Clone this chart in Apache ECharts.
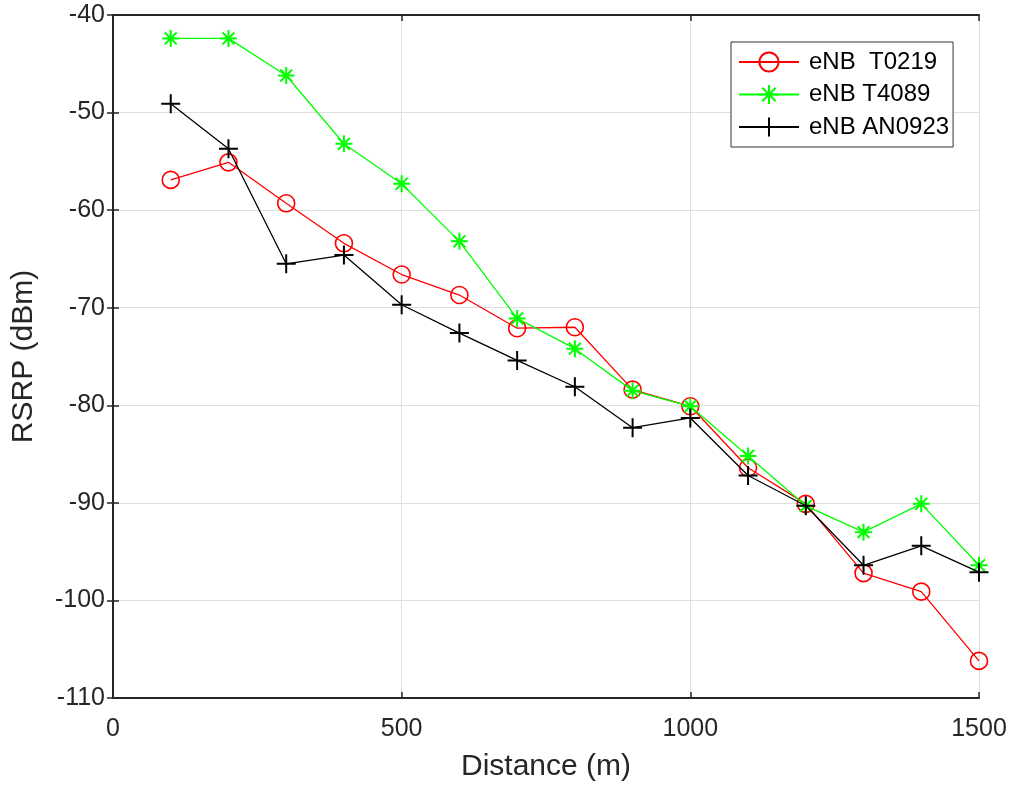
<!DOCTYPE html>
<html>
<head>
<meta charset="utf-8">
<script src="https://cdn.jsdelivr.net/npm/echarts@6/dist/echarts.min.js"></script>
<style>
html,body{margin:0;padding:0;background:#fff;}
#chart{width:1021px;height:790px;}
</style>
</head>
<body>
<div id="chart"></div>
<script>
const distances = [100,200,300,400,500,600,700,800,900,1000,1100,1200,1300,1400,1500];
const seriesNames = ['eNB  T0219','eNB T4089','eNB AN0923'];
const rsrpT0219 = [-56.9,-55.1,-59.3,-63.4,-66.6,-68.7,-72.1,-72.0,-78.4,-80.1,-86.4,-90.1,-97.2,-99.1,-106.2];
const rsrpT4089 = [-42.4,-42.4,-46.2,-53.2,-57.3,-63.2,-71.1,-74.2,-78.5,-80.1,-85.2,-90.3,-93.0,-90.1,-96.4];
const rsrpAN0923 = [-49.1,-53.7,-65.5,-64.6,-69.7,-72.6,-75.4,-78.1,-82.3,-81.3,-87.2,-90.3,-96.4,-94.4,-97.1];
const xTicks = {min:0,max:1500,interval:500};
const yTicks = {min:-110,max:-40,interval:10};
const xTitle = 'Distance (m)';
const yTitle = 'RSRP (dBm)';

const FONT = '"Liberation Sans", Arial, Helvetica, sans-serif';
const AX = '#262626';
const pair = (ys) => distances.map((d,i)=>[d, ys[i]]);

const plusPath = 'path://M0,10L20,10M10,0L10,20';
const starPath = 'path://M10,0L10,20M0,10L20,10M3,3L17,17M17,3L3,17';

const chart = echarts.init(document.getElementById('chart'));
const baseAxisLine = {show:true, lineStyle:{color:AX, width:2}};
const tick = {show:true, inside:true, length:6, lineStyle:{color:AX, width:1.5}};
chart.setOption({
  animation:false,
  backgroundColor:'#fff',
  grid:{left:113, right:42, top:15, bottom:92, containLabel:false},
  legend:{
    left:731, top:42, orient:'vertical',
    padding:[8,4,8,7], itemGap:8.5, itemWidth:60, itemHeight:24,
    backgroundColor:'#fff', borderColor:'#333', borderWidth:1,
    textStyle:{fontFamily:FONT, fontSize:24, color:'#000', lineHeight:24, padding:[0,0,0,5]},
    data:seriesNames
  },
  xAxis:[{
    type:'value', min:xTicks.min, max:xTicks.max, interval:xTicks.interval,
    name:xTitle, nameLocation:'middle', nameGap:54,
    nameTextStyle:{fontFamily:FONT, fontSize:30, color:AX},
    axisLine:baseAxisLine, axisTick:tick,
    axisLabel:{fontFamily:FONT, fontSize:25, color:AX, margin:19, formatter:(v)=>String(v)},
    splitLine:{show:true, lineStyle:{color:'#dfdfdf', width:1}}
  },{
    type:'value', position:'top', min:xTicks.min, max:xTicks.max, interval:xTicks.interval,
    axisLine:baseAxisLine, axisTick:tick, axisLabel:{show:false}, splitLine:{show:false}
  }],
  yAxis:[{
    type:'value', min:yTicks.min, max:yTicks.max, interval:yTicks.interval,
    name:yTitle, nameLocation:'middle', nameGap:74,
    nameTextStyle:{fontFamily:FONT, fontSize:30, color:AX},
    axisLine:baseAxisLine, axisTick:tick,
    axisLabel:{fontFamily:FONT, fontSize:25, color:AX, margin:8, formatter:(v)=>String(v)},
    splitLine:{show:true, lineStyle:{color:'#dfdfdf', width:1}}
  },{
    type:'value', position:'right', min:yTicks.min, max:yTicks.max, interval:yTicks.interval,
    axisLine:baseAxisLine, axisTick:tick, axisLabel:{show:false}, splitLine:{show:false}
  }],
  series:[
    {name:seriesNames[0], type:'line', data:pair(rsrpT0219), symbol:'circle', symbolSize:17,
     lineStyle:{color:'#ff0000', width:1.3}, itemStyle:{color:'rgba(0,0,0,0)', borderColor:'#ff0000', borderWidth:1.6}, z:3},
    {name:seriesNames[1], type:'line', data:pair(rsrpT4089), symbol:starPath, symbolSize:17,
     lineStyle:{color:'#00ff00', width:1.3}, itemStyle:{color:'rgba(0,0,0,0)', borderColor:'#00ff00', borderWidth:2}, z:4},
    {name:seriesNames[2], type:'line', data:pair(rsrpAN0923), symbol:plusPath, symbolSize:19,
     lineStyle:{color:'#000000', width:1.3}, itemStyle:{color:'rgba(0,0,0,0)', borderColor:'#000000', borderWidth:2}, z:5}
  ]
});
</script>
</body>
</html>
